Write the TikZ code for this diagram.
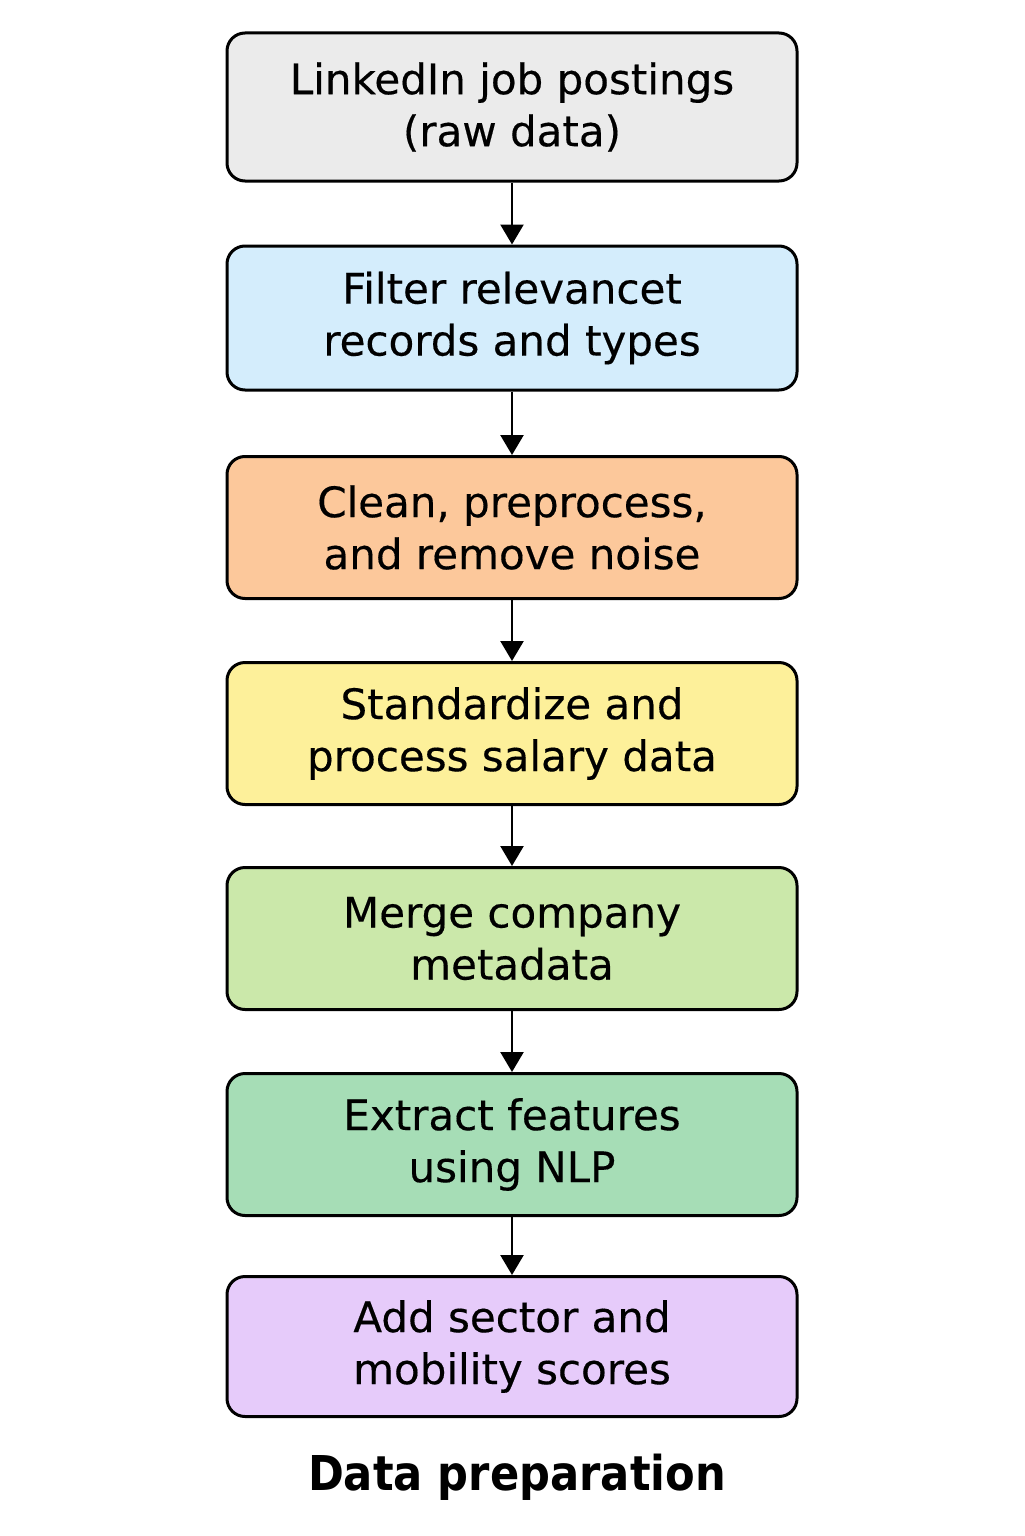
\documentclass[tikz,border=0pt]{standalone}
\usepackage{fontspec}
\setmainfont{DejaVu Sans}[FakeBold=0.35]
\newfontfamily\titlefont{DejaVu Sans}[FakeStretch=0.9]
\usetikzlibrary{arrows.meta}
\definecolor{cgray}{HTML}{EBEBEB}
\definecolor{cblue}{HTML}{D4EDFC}
\definecolor{corange}{HTML}{FCC89B}
\definecolor{cyellow}{HTML}{FDF09A}
\definecolor{cgreen}{HTML}{CBE8AA}
\definecolor{cmint}{HTML}{A6DDB6}
\definecolor{cviolet}{HTML}{E6CBFA}
\begin{document}
\begin{tikzpicture}[x=0.5pt,y=-0.5pt,
  stage/.style={draw,line width=1.5pt,rounded corners=9pt,minimum width=285pt,
    minimum height=71pt,align=center,font=\fontsize{21}{26}\selectfont},
  flow/.style={-{Triangle[length=10pt,width=11.5pt]},line width=1.25pt}]
\useasboundingbox (0,0) rectangle (1024,1536);

\node[stage,fill=cgray,minimum height=74pt] (raw) at (512,107) {LinkedIn job postings\\(raw data)};
\node[stage,fill=cblue,minimum height=72pt] (filter) at (512,318) {Filter relevancet\\records and types};
\node[stage,fill=corange] (clean) at (512,527.5) {Clean, preprocess,\\and remove noise};
\node[stage,fill=cyellow] (salary) at (512,733.5) {Standardize and\\process salary data};
\node[stage,fill=cgreen] (merge) at (512,938.5) {Merge company\\metadata};
\node[stage,fill=cmint] (nlp) at (512,1144.5) {Extract features\\using NLP};
\node[stage,fill=cviolet,minimum height=70pt] (scores) at (512,1346.5) {Add sector and\\mobility scores};
\node[font=\titlefont\fontsize{24}{28}\selectfont\bfseries] (title) at (517,1477) {Data preparation};

\draw[flow] (raw) -- (filter);
\draw[flow] (filter) -- (clean);
\draw[flow] (clean) -- (salary);
\draw[flow] (salary) -- (merge);
\draw[flow] (merge) -- (nlp);
\draw[flow] (nlp) -- (scores);
\end{tikzpicture}
\end{document}
